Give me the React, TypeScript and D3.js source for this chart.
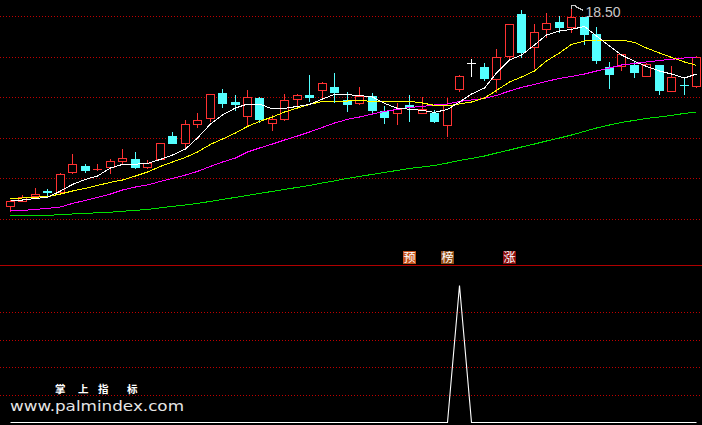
import { useEffect, useRef } from "react";
import * as d3 from "d3";

// 56 trading days, prices
const days = d3.range(56);

const opens = [8.62, 8.85, 9.10, 9.34, 9.28, 10.28, 10.60, 10.43, 10.53, 10.87, 10.95, 10.57, 10.94, 12.10, 11.73, 12.69, 12.99, 14.24, 13.81, 13.12, 14.02, 12.77, 12.93, 13.94, 14.17, 14.38, 14.55, 13.90, 13.74, 14.10, 13.37, 13.24, 13.65, 13.24, 13.27, 12.65, 14.44, 15.75, 15.54, 14.94, 16.12, 18.20, 16.57, 17.44, 17.79, 17.54, 18.04, 17.20, 15.54, 15.62, 15.65, 15.10, 15.65, 14.37, 14.65, 14.60];
const highs = [8.88, 9.15, 9.50, 9.45, 10.23, 11.20, 10.69, 10.70, 10.94, 11.45, 11.30, 10.90, 11.75, 12.30, 12.90, 13.25, 14.20, 14.44, 14.15, 14.40, 14.03, 13.13, 14.20, 14.20, 15.15, 14.82, 15.25, 14.29, 14.57, 14.24, 13.59, 13.77, 14.15, 14.04, 13.40, 13.99, 15.13, 15.93, 15.74, 16.44, 17.70, 18.40, 17.70, 18.27, 18.10, 18.50, 18.05, 17.54, 15.82, 16.20, 15.87, 15.73, 15.65, 15.60, 14.94, 16.08];
const lows = [8.35, 8.83, 9.08, 9.10, 9.25, 10.23, 10.32, 10.40, 10.24, 10.77, 10.52, 10.48, 10.93, 11.74, 11.50, 12.57, 12.85, 13.57, 13.40, 12.63, 12.79, 12.40, 12.90, 13.63, 13.87, 14.07, 13.78, 13.37, 13.68, 13.25, 12.75, 12.70, 12.87, 13.23, 12.82, 12.10, 14.37, 15.10, 14.90, 14.32, 15.94, 16.04, 15.49, 17.07, 17.29, 17.29, 16.70, 15.74, 14.49, 15.40, 15.04, 15.08, 14.20, 14.35, 14.20, 14.54];
const closes = [8.85, 9.05, 9.20, 9.32, 10.20, 10.69, 10.40, 10.45, 10.85, 10.99, 10.57, 10.73, 11.74, 11.77, 12.69, 12.89, 14.19, 13.77, 13.68, 14.04, 12.95, 12.94, 13.90, 14.15, 14.07, 14.74, 14.32, 13.69, 14.10, 13.40, 13.07, 13.45, 13.55, 13.44, 12.87, 13.63, 15.10, 15.75, 14.99, 16.04, 17.70, 16.32, 17.32, 17.74, 17.57, 18.04, 17.20, 15.90, 15.20, 16.20, 15.32, 15.70, 14.40, 15.04, 14.64, 16.07];

// moving averages
const ma5 = [8.90, 8.90, 8.98, 9.03, 9.35, 9.68, 9.93, 10.10, 10.50, 10.68, 10.69, 10.73, 10.93, 11.15, 11.45, 12.00, 12.70, 13.15, 13.50, 13.70, 13.70, 13.45, 13.48, 13.58, 13.68, 13.95, 14.18, 14.16, 14.13, 14.05, 13.73, 13.48, 13.44, 13.38, 13.28, 13.43, 13.80, 14.20, 14.50, 15.25, 15.90, 16.15, 16.65, 17.15, 17.35, 17.43, 17.58, 17.10, 16.60, 16.15, 15.83, 15.58, 15.35, 15.20, 15.00, 15.20];
const ma10 = [8.95, 9.00, 9.04, 9.07, 9.20, 9.35, 9.48, 9.63, 9.78, 9.90, 10.10, 10.30, 10.58, 10.80, 11.03, 11.30, 11.68, 11.95, 12.25, 12.58, 12.83, 13.05, 13.30, 13.50, 13.68, 13.83, 13.85, 13.85, 13.88, 13.83, 13.83, 13.84, 13.84, 13.75, 13.63, 13.60, 13.70, 13.80, 14.00, 14.38, 14.80, 15.05, 15.35, 15.85, 16.25, 16.68, 16.85, 16.90, 16.90, 16.90, 16.78, 16.50, 16.25, 16.03, 15.80, 15.63];
const ma20 = [8.35, 8.38, 8.43, 8.48, 8.55, 8.73, 8.88, 9.03, 9.20, 9.40, 9.55, 9.65, 9.83, 9.98, 10.15, 10.33, 10.58, 10.80, 11.00, 11.30, 11.50, 11.70, 11.90, 12.10, 12.30, 12.53, 12.75, 12.93, 13.05, 13.20, 13.33, 13.43, 13.53, 13.58, 13.65, 13.70, 13.83, 13.90, 13.98, 14.13, 14.35, 14.53, 14.68, 14.83, 14.98, 15.08, 15.20, 15.35, 15.50, 15.65, 15.73, 15.80, 15.88, 15.93, 16.00, 16.05];
const ma60 = [8.10, 8.11, 8.13, 8.14, 8.16, 8.20, 8.23, 8.26, 8.29, 8.34, 8.38, 8.43, 8.51, 8.58, 8.65, 8.73, 8.83, 8.93, 9.03, 9.13, 9.23, 9.33, 9.43, 9.53, 9.63, 9.75, 9.85, 9.98, 10.08, 10.18, 10.28, 10.38, 10.48, 10.55, 10.63, 10.75, 10.88, 10.98, 11.10, 11.25, 11.40, 11.55, 11.70, 11.85, 12.00, 12.15, 12.33, 12.50, 12.65, 12.78, 12.88, 12.98, 13.05, 13.13, 13.23, 13.30];

// lower indicator
const signal = [
  0, 0, 0, 0, 0, 0, 0, 0, 0, 0,
  0, 0, 0, 0, 0, 0, 0, 0, 0, 0,
  0, 0, 0, 0, 0, 0, 0, 0, 0, 0,
  0, 0, 0, 0, 0, 0, 100,
  0, 0, 0, 0, 0, 0, 0, 0, 0, 0,
  0, 0, 0, 0, 0, 0, 0, 0, 0,
];

const priceGrid = [18.1, 16.05, 14.05, 12.0, 10.0, 7.95];
const signalGrid = [20, 40, 60, 80];

const flagDays = [32, 35, 40];
const flagTexts = ["预", "榜", "涨"];
const flagColors: Record<string, string> = { 预: "#c4501a", 榜: "#8e4c16", 涨: "#8a0c0c" };

const maxLabel = "18.50";
const brandChars = ["掌", "上", "指", "标"];
const brandUrl = "www.palmindex.com";

const App = () => {
  const svgRef = useRef<SVGSVGElement | null>(null);

  useEffect(() => {
    const width = 702;
    const height = 425;

    const svg = d3.select(svgRef.current).attr("width", width).attr("height", height);
    svg.selectAll("*").remove();

    svg.append("rect").attr("width", width).attr("height", height).attr("fill", "#000");

    const x = d3.scalePoint<number>().domain(days).range([10, 696]);
    const y = d3.scaleLinear().domain([7.95, 18.9]).range([219, 0]);
    const ys = d3.scaleLinear().domain([0, 100]).range([422, 284.5]);
    const cx = (i: number) => Math.round(x(i) ?? 0);

    // grid
    const grid = svg.append("g").attr("shape-rendering", "crispEdges");
    grid
      .selectAll("line.pg")
      .data(priceGrid)
      .join("line")
      .attr("class", "pg")
      .attr("x1", 0)
      .attr("x2", width)
      .attr("y1", (d) => Math.round(y(d)) + 0.5)
      .attr("y2", (d) => Math.round(y(d)) + 0.5)
      .attr("stroke", "#c00000")
      .attr("stroke-dasharray", "1,2");
    grid
      .selectAll("line.sg")
      .data(signalGrid)
      .join("line")
      .attr("class", "sg")
      .attr("x1", 0)
      .attr("x2", width)
      .attr("y1", (d) => Math.round(ys(d)) + 0.5)
      .attr("y2", (d) => Math.round(ys(d)) + 0.5)
      .attr("stroke", "#c00000")
      .attr("stroke-dasharray", "1,2");
    grid
      .append("line")
      .attr("x1", 0)
      .attr("x2", width)
      .attr("y1", 265.5)
      .attr("y2", 265.5)
      .attr("stroke", "#b00000");

    // candles
    const candles = svg.append("g").attr("shape-rendering", "crispEdges");
    days.forEach((i) => {
      const o = opens[i];
      const c = closes[i];
      const px = cx(i);
      const up = c > o;
      const flat = c === o;
      const col = flat ? "#ffffff" : up ? "#ff3232" : "#54ffff";
      candles
        .append("line")
        .attr("x1", px + 0.5)
        .attr("x2", px + 0.5)
        .attr("y1", Math.round(y(highs[i])))
        .attr("y2", Math.round(y(lows[i])) + 1)
        .attr("stroke", col);
      const top = Math.round(y(Math.max(o, c)));
      const bot = Math.round(y(Math.min(o, c)));
      if (bot - top < 1) {
        candles
          .append("line")
          .attr("x1", px - 4)
          .attr("x2", px + 5)
          .attr("y1", top + 0.5)
          .attr("y2", top + 0.5)
          .attr("stroke", col);
      } else if (up) {
        candles
          .append("rect")
          .attr("x", px - 3.5)
          .attr("y", top + 0.5)
          .attr("width", 8)
          .attr("height", bot - top)
          .attr("fill", "#000")
          .attr("stroke", col);
      } else {
        candles
          .append("rect")
          .attr("x", px - 4)
          .attr("y", top)
          .attr("width", 9)
          .attr("height", bot - top + 1)
          .attr("fill", col);
      }
    });

    // moving averages
    const maLine = d3
      .line<number>()
      .x((_, i) => cx(i) + 0.5)
      .y((d) => y(d));
    const series: Array<[number[], string]> = [
      [ma60, "#00e000"],
      [ma20, "#ff00ff"],
      [ma10, "#ffff00"],
      [ma5, "#ffffff"],
    ];
    series.forEach(([vals, col]) => {
      svg
        .append("path")
        .attr("d", maLine(vals))
        .attr("fill", "none")
        .attr("stroke", col)
        .attr("stroke-width", 1)
        .attr("shape-rendering", "crispEdges");
    });

    // max price marker
    const hi = d3.maxIndex(highs);
    const hx = cx(hi) + 0.5;
    const hy = Math.round(y(highs[hi])) + 0.5;
    svg
      .append("path")
      .attr("d", `M${hx},${hy} V${hy - 3} H${hx + 4} M${hx + 4},${hy - 2} L${hx + 12},${hy + 2}`)
      .attr("fill", "none")
      .attr("stroke", "#c8c8c8")
      .attr("shape-rendering", "crispEdges");
    svg
      .append("text")
      .attr("x", hx + 14)
      .attr("y", hy + 8)
      .attr("fill", "#c8c8c8")
      .attr("font-family", "'Liberation Sans', Arial, sans-serif")
      .attr("font-size", 14)
      .text(maxLabel);

    // indicator
    const sigLine = d3
      .line<number>()
      .x((_, i) => cx(i) + 0.5)
      .y((d) => Math.round(ys(d)) + 0.5);
    svg
      .append("path")
      .attr("d", sigLine(signal))
      .attr("fill", "none")
      .attr("stroke", "#ffffff")
      .attr("stroke-width", 1.1);

    // flags
    const flags = svg
      .append("g")
      .selectAll("g")
      .data(flagDays.map((d, k) => ({ d, t: flagTexts[k] })))
      .join("g")
      .attr("transform", (f) => `translate(${cx(f.d) - 6},251)`);
    flags
      .append("rect")
      .attr("width", 13)
      .attr("height", 13)
      .attr("fill", (f) => flagColors[f.t]);
    flags
      .append("text")
      .attr("x", 6.5)
      .attr("y", 11)
      .attr("text-anchor", "middle")
      .attr("fill", "#ffffff")
      .attr("font-family", "'Noto Sans CJK SC', sans-serif")
      .attr("font-size", 12)
      .text((f) => f.t);

    // watermark
    const brandX = [55, 78, 98, 127];
    svg
      .append("g")
      .selectAll("text")
      .data(brandChars)
      .join("text")
      .attr("x", (_, k) => brandX[k])
      .attr("y", 393)
      .attr("fill", "#ffffff")
      .attr("font-weight", "bold")
      .attr("font-family", "'Noto Sans CJK SC', sans-serif")
      .attr("font-size", 10.5)
      .text((d) => d);
    svg
      .append("text")
      .attr("x", 10)
      .attr("y", 411)
      .attr("fill", "#e6e6e6")
      .attr("font-family", "'DejaVu Sans', Verdana, sans-serif")
      .attr("font-size", 14)
      .attr("textLength", 174)
      .attr("lengthAdjust", "spacingAndGlyphs")
      .text(brandUrl);
  }, []);

  return (
    <div style={{ position: "absolute", left: 0, top: 0, width: 702, height: 425, background: "#000" }}>
      <svg ref={svgRef} style={{ display: "block" }} />
    </div>
  );
};

export default App;
